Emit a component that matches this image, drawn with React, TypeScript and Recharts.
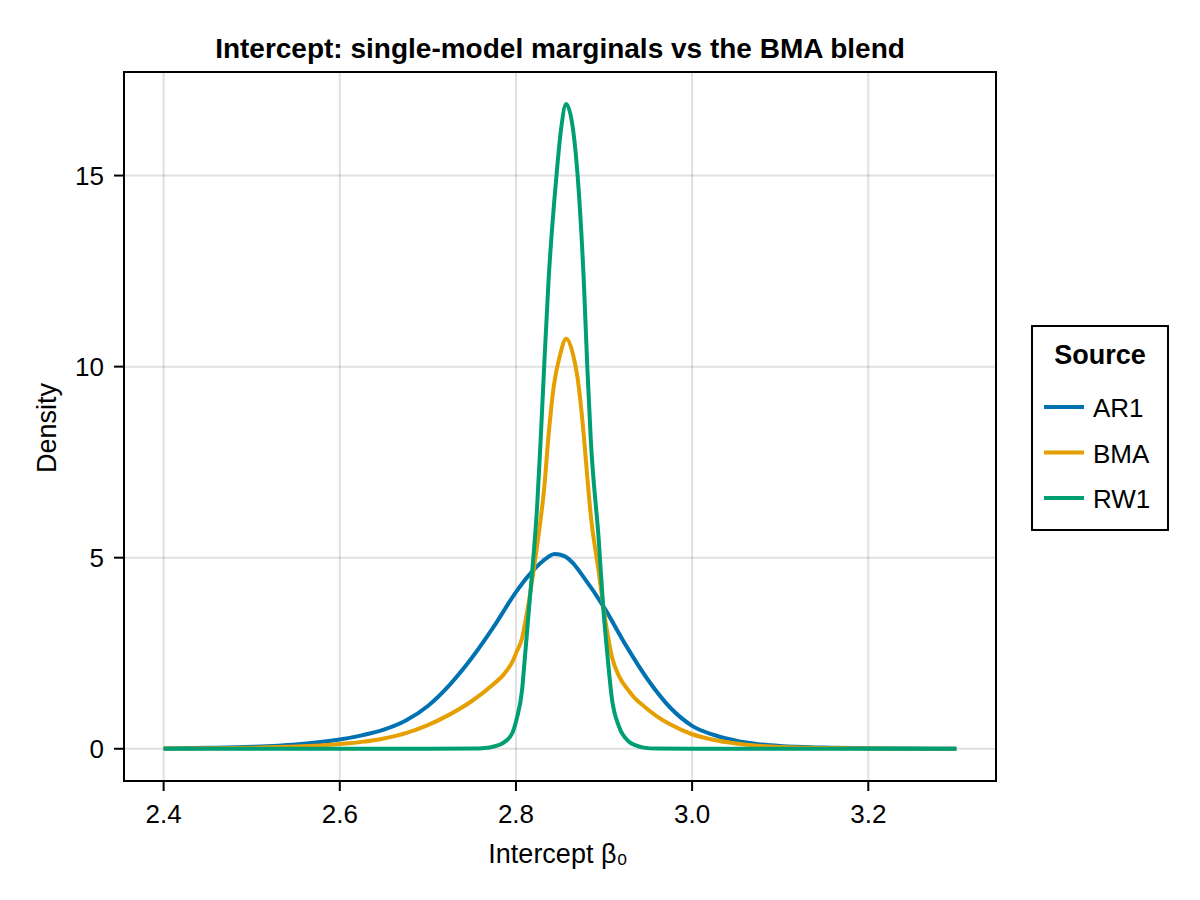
import { LineChart, Line, XAxis, YAxis, CartesianGrid, ReferenceArea } from 'recharts';

// axis setup
const X_TICKS = [2.4, 2.6, 2.8, 3.0, 3.2];
const Y_TICKS = [0, 5, 10, 15];
const X_DOMAIN: [number, number] = [2.355, 3.345];
const Y_DOMAIN: [number, number] = [-0.8435, 17.71];

// AR1 marginal
const AR1_X = [
  2.4, 2.45, 2.5, 2.55, 2.6, 2.625, 2.65, 2.675, 2.7, 2.725, 2.75, 2.775, 2.8, 2.815, 2.83,
  2.844, 2.855, 2.865, 2.875, 2.9, 2.925, 2.95, 2.975, 3.0, 3.025, 3.05, 3.075, 3.1,
  3.15, 3.2, 3.25, 3.3,
];
const AR1_DENSITY = [
  0.01, 0.025, 0.05, 0.11, 0.24, 0.35, 0.5, 0.74, 1.12, 1.68, 2.38, 3.2, 4.1, 4.55, 4.9,
  5.1, 5.04, 4.85, 4.55, 3.7, 2.7, 1.8, 1.08, 0.6, 0.36, 0.21, 0.12, 0.07,
  0.03, 0.012, 0.005, 0.0,
];

// BMA blend
const BMA_X = [
  2.4, 2.45, 2.5, 2.55, 2.6, 2.625, 2.65, 2.675, 2.7, 2.725, 2.75, 2.775, 2.786, 2.796,
  2.801, 2.807, 2.81, 2.815, 2.819, 2.824, 2.828, 2.832, 2.837, 2.843, 2.85, 2.857, 2.865,
  2.87, 2.877, 2.881, 2.885, 2.894, 2.899, 2.904, 2.909, 2.917, 2.928, 2.936, 2.945, 2.96,
  2.975, 3.0, 3.025, 3.05, 3.075, 3.1, 3.15, 3.2, 3.25, 3.3,
];
const BMA_DENSITY = [
  0.005, 0.013, 0.026, 0.057, 0.125, 0.18, 0.27, 0.41, 0.62, 0.9, 1.25, 1.7, 1.94, 2.28,
  2.55, 2.9, 3.25, 3.9, 4.5, 5.3, 6.0, 6.8, 8.2, 9.5, 10.3, 10.73, 10.3,
  9.7, 8.2, 7.1, 6.1, 4.62, 3.75, 3.0, 2.4, 1.9, 1.52, 1.3, 1.12, 0.85,
  0.64, 0.38, 0.23, 0.14, 0.08, 0.045, 0.018, 0.007, 0.002, 0.0,
];

// RW1 marginal
const RW1_X = [
  2.4, 2.6, 2.7, 2.75, 2.765, 2.775, 2.786, 2.796, 2.801, 2.807, 2.81, 2.815, 2.819, 2.824,
  2.828, 2.832, 2.837, 2.846, 2.851, 2.857, 2.865, 2.87, 2.877, 2.881, 2.885, 2.894, 2.899,
  2.904, 2.909, 2.917, 2.928, 2.936, 2.945, 2.96, 3.0, 3.1, 3.2, 3.3,
];
const RW1_DENSITY = [
  0.0, 0.0, 0.0, 0.004, 0.02, 0.06, 0.16, 0.42, 0.8, 1.55, 2.35, 3.72, 4.8, 6.33,
  8.07, 9.99, 12.25, 15.0, 16.17, 16.87, 16.17, 15.0, 12.25, 9.99, 8.07, 5.46, 3.72,
  2.41, 1.3, 0.58, 0.19, 0.09, 0.03, 0.004, 0.0, 0.0, 0.0, 0.0,
];

const SERIES = [
  { name: 'AR1', color: '#0072B2', xs: AR1_X, ys: AR1_DENSITY },
  { name: 'BMA', color: '#E69F00', xs: BMA_X, ys: BMA_DENSITY },
  { name: 'RW1', color: '#009E73', xs: RW1_X, ys: RW1_DENSITY },
];

const FONT = '"Liberation Sans", Arial, Helvetica, sans-serif';

export default function App() {
  return (
    <div
      style={{
        position: 'absolute',
        left: 0,
        top: 0,
        width: 1200,
        height: 900,
        background: '#fff',
        fontFamily: FONT,
      }}
    >
      <LineChart width={1200} height={900} margin={{ top: 72, right: 204, left: 64, bottom: 9 }}>
        <CartesianGrid stroke="#000" strokeOpacity={0.12} strokeWidth={2} />
        <XAxis
          dataKey="x"
          type="number"
          domain={X_DOMAIN}
          ticks={X_TICKS}
          interval={0}
          allowDataOverflow
          height={110}
          tickFormatter={(v: number) => v.toFixed(1)}
          tick={{ fontSize: 26, fill: '#000' }}
          tickSize={10}
          tickMargin={14}
          axisLine={{ stroke: '#000', strokeWidth: 2 }}
          tickLine={{ stroke: '#000', strokeWidth: 2 }}
        />
        <YAxis
          dataKey="y"
          type="number"
          domain={Y_DOMAIN}
          ticks={Y_TICKS}
          interval={0}
          allowDataOverflow
          width={60}
          tick={{ fontSize: 26, fill: '#000' }}
          tickSize={10}
          tickMargin={10}
          axisLine={{ stroke: '#000', strokeWidth: 2 }}
          tickLine={{ stroke: '#000', strokeWidth: 2 }}
        />
        <ReferenceArea
          x1={X_DOMAIN[0]}
          x2={X_DOMAIN[1]}
          y1={Y_DOMAIN[0]}
          y2={Y_DOMAIN[1]}
          fill="none"
          stroke="#000"
          strokeWidth={2}
          ifOverflow="visible"
        />
        {SERIES.map((s) => (
          <Line
            key={s.name}
            name={s.name}
            data={s.xs.map((x, i) => ({ x, y: s.ys[i] }))}
            dataKey="y"
            type="monotone"
            stroke={s.color}
            strokeWidth={4}
            dot={false}
            isAnimationActive={false}
          />
        ))}
      </LineChart>

      {/* title, axis labels, legend */}
      <svg
        width={1200}
        height={900}
        style={{ position: 'absolute', left: 0, top: 0, pointerEvents: 'none', fontFamily: FONT }}
      >
        <text x={560} y={58} textAnchor="middle" fontSize={28} fontWeight="bold" fill="#000">
          Intercept: single-model marginals vs the BMA blend
        </text>
        <text x={558} y={863} textAnchor="middle" fontSize={27} fill="#000">
          Intercept β₀
        </text>
        <text transform="translate(56,428) rotate(-90)" textAnchor="middle" fontSize={27} fill="#000">
          Density
        </text>

        <rect x={1032} y={326} width={136} height={204} fill="#fff" stroke="#000" strokeWidth={2} />
        <text x={1100} y={364} textAnchor="middle" fontSize={27} fontWeight="bold" fill="#000">
          Source
        </text>
        {SERIES.map((s, i) => (
          <g key={s.name}>
            <line x1={1044} x2={1084} y1={407 + i * 45.5} y2={407 + i * 45.5} stroke={s.color} strokeWidth={4} />
            <text x={1093} y={417 + i * 45.5} fontSize={26} fill="#000">
              {s.name}
            </text>
          </g>
        ))}
      </svg>
    </div>
  );
}
